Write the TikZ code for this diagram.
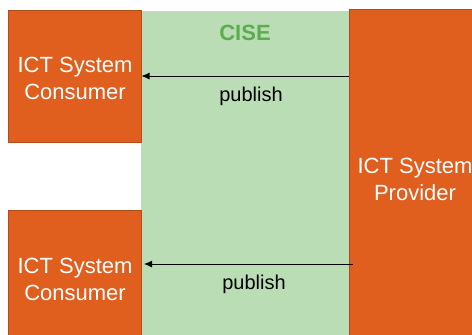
\documentclass[tikz,border=0pt]{standalone}
\usepackage{fontspec}
\setmainfont{Liberation Sans}
\usetikzlibrary{arrows.meta}
\definecolor{sysorange}{HTML}{E05E1E}
\definecolor{sysborder}{HTML}{B24D1B}
\definecolor{cisegreen}{HTML}{BBDDB6}
\definecolor{cisetext}{HTML}{5BAE4E}
\tikzset{
  sysbox/.style={draw=sysborder, line width=1pt, fill=sysorange, text=white,
    align=center, inner sep=0pt, font=\fontsize{22}{27}\selectfont},
  cisebox/.style={fill=cisegreen, draw=none, inner sep=0pt},
  pubarrow/.style={draw=black, line width=0.9pt, -{Latex[length=8pt,width=7pt]}},
  publabel/.style={font=\fontsize{20}{24}\selectfont, text=black, inner sep=0pt}
}
\begin{document}
\begin{tikzpicture}[x=1pt,y=-1pt]
\useasboundingbox (0,0) rectangle (472,335);
\clip (0,0) rectangle (472,335);
\node[cisebox, minimum width=208pt, minimum height=340pt, anchor=north west] (cise) at (141,11) {};
\node[font=\bfseries\fontsize{22}{26}\selectfont, text=cisetext] (cisel) at (245,33) {CISE};
\node[sysbox, minimum width=133pt, minimum height=132pt, anchor=north west] (c1) at (8,10) {\strut ICT System\\Consumer};
\node[sysbox, minimum width=133pt, minimum height=134pt, anchor=north west] (c2) at (8,210) {\strut ICT System\\Consumer};
\node[sysbox, minimum width=131pt, minimum height=336pt, anchor=north west] (prov) at (349,9) {\strut ICT System\\Provider};
\coordinate (a1s) at (349,76);
\coordinate (a1e) at (141.5,76);
\coordinate (a2s) at (353,264);
\coordinate (a2e) at (144,264);
\draw[pubarrow] (a1s) -- (a1e);
\draw[pubarrow] (a2s) -- (a2e);
\node[publabel] (p1) at (251,96.5) {publish};
\node[publabel] (p2) at (254,284.5) {publish};
\end{tikzpicture}
\end{document}
